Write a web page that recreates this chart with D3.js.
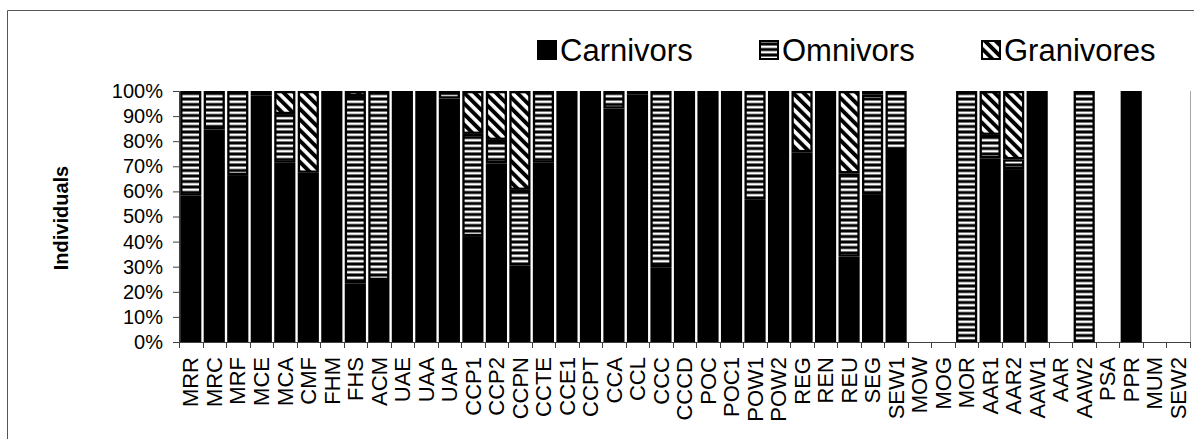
<!DOCTYPE html>
<html>
<head>
<meta charset="utf-8">
<script src="https://cdn.jsdelivr.net/npm/d3@7"></script>
<style>
  html, body { margin: 0; padding: 0; background: #fff; }
  svg { display: block; font-family: "Liberation Sans", Arial, sans-serif; }
</style>
</head>
<body>
<div id="chart"></div>
<script>
// Sites along the x axis
const sites = ["MRR", "MRC", "MRF", "MCE", "MCA", "CMF", "FHM", "FHS", "ACM", "UAE", "UAA", "UAP",
  "CCP1", "CCP2", "CCPN", "CCTE", "CCE1", "CCPT", "CCA", "CCL", "CCC", "CCCD", "POC", "POC1",
  "POW1", "POW2", "REG", "REN", "REU", "SEG", "SEW1", "MOW", "MOG", "MOR", "AAR1", "AAR2",
  "AAW1", "AAR", "AAW2", "PSA", "PPR", "MUM", "SEW2"];

// Share of individuals (%) per feeding group
const carnivors = [58.3, 84.7, 66.5, 98.3, 71.4, 67.4, 100, 23.4, 24.7, 100, 100, 97,
  42.2, 71.2, 30.4, 71.4, 100, 100, 93, 98.5, 29.8, 100, 98, 100,
  56.9, 100, 75.6, 100, 34.0, 58.6, 76.5, 0, 0, 0, 73.2, 68.9,
  100, 0, 0, 0, 100, 0, 0];
const omnivors = [41.7, 15.3, 33.5, 0, 19.4, 0, 0, 74.6, 75.3, 0, 0, 3,
  40.7, 9.3, 30.2, 28.6, 0, 0, 7, 1.5, 70.2, 0, 2, 0,
  43.1, 0, 0, 0, 33.2, 39.9, 23.5, 0, 0, 100, 9.3, 3.9,
  0, 0, 100, 0, 0, 0, 0];
const granivores = [0, 0, 0, 1.7, 9.2, 32.6, 0, 2.0, 0, 0, 0, 0,
  17.1, 19.5, 39.4, 0, 0, 0, 0, 0, 0, 0, 0, 0,
  0, 0, 24.4, 0, 32.8, 1.5, 0, 0, 0, 0, 17.5, 27.2,
  0, 0, 0, 0, 0, 0, 0];

const groups = ["Carnivors", "Omnivors", "Granivores"];
const yTicks = [0, 10, 20, 30, 40, 50, 60, 70, 80, 90, 100];

const W = 1194, H = 439;
const plot = { left: 179, right: 1190, top: 91, bottom: 342 };

const rows = sites.map((s, i) => ({
  site: s,
  Carnivors: carnivors[i],
  Omnivors: omnivors[i],
  Granivores: granivores[i]
}));

const svg = d3.select("#chart").append("svg")
  .attr("width", W)
  .attr("height", H);

// Patterns
const defs = svg.append("defs");
const omniPat = defs.append("pattern")
  .attr("id", "pat-omni")
  .attr("patternUnits", "userSpaceOnUse")
  .attr("width", 10).attr("height", 5.5);
omniPat.append("rect").attr("width", 10).attr("height", 5.5).attr("fill", "#000");
omniPat.append("rect").attr("y", 1.5).attr("width", 10).attr("height", 2.5).attr("fill", "#fff");

const granPat = defs.append("pattern")
  .attr("id", "pat-gran")
  .attr("patternUnits", "userSpaceOnUse")
  .attr("width", 7.5).attr("height", 7.5)
  .attr("patternTransform", "rotate(-45)");
granPat.append("rect").attr("width", 7.5).attr("height", 7.5).attr("fill", "#000");
granPat.append("rect").attr("x", 2).attr("width", 3.6).attr("height", 7.5).attr("fill", "#fff");

const fills = { Carnivors: "#000", Omnivors: "url(#pat-omni)", Granivores: "url(#pat-gran)" };

// Outer frame
svg.append("path")
  .attr("d", `M7.5,${H}V10.5H${W}`)
  .attr("fill", "none")
  .attr("stroke", "#555")
  .attr("stroke-width", 1);

// Scales
const x = d3.scaleBand()
  .domain(sites)
  .range([plot.left, plot.right])
  .paddingInner(0.1)
  .paddingOuter(0.05);

const y = d3.scaleLinear()
  .domain([0, 100])
  .range([plot.bottom, plot.top]);

// Plot area right edge
svg.append("line")
  .attr("x1", plot.right + 0.5).attr("x2", plot.right + 0.5)
  .attr("y1", plot.top).attr("y2", plot.bottom)
  .attr("stroke", "#a6a6a6");

// Bars
const series = d3.stack().keys(groups)(rows);
const sw = 2.3;

svg.append("g")
  .selectAll("g")
  .data(series)
  .join("g")
    .attr("fill", d => fills[d.key])
  .selectAll("rect")
  .data(d => d.filter(p => p[1] - p[0] > 0))
  .join("rect")
    .attr("x", d => x(d.data.site) + sw / 2)
    .attr("width", x.bandwidth() - sw)
    .attr("y", d => y(d[1]) + sw / 2)
    .attr("height", d => Math.max(0, y(d[0]) - y(d[1]) - sw))
    .attr("stroke", "#000")
    .attr("stroke-width", sw);

// Y axis
const yAxis = svg.append("g")
  .attr("transform", `translate(${plot.left},0)`)
  .call(d3.axisLeft(y).tickValues(yTicks).tickFormat(d => d + "%").tickSize(6).tickPadding(10));
yAxis.select(".domain").attr("stroke", "#404040");
yAxis.selectAll(".tick line").attr("stroke", "#404040");
yAxis.selectAll(".tick text")
  .attr("font-size", 20)
  .attr("font-family", "Liberation Sans, Arial, sans-serif")
  .attr("fill", "#000");

// X axis: line, boundary ticks, rotated labels
const xAxis = svg.append("g");
xAxis.append("line")
  .attr("x1", plot.left).attr("x2", plot.right)
  .attr("y1", plot.bottom + 0.5).attr("y2", plot.bottom + 0.5)
  .attr("stroke", "#404040");
xAxis.selectAll("line.tk")
  .data(d3.range(sites.length + 1))
  .join("line")
    .attr("class", "tk")
    .attr("x1", k => Math.round(plot.left + k * x.step()) + 0.5)
    .attr("x2", k => Math.round(plot.left + k * x.step()) + 0.5)
    .attr("y1", plot.bottom)
    .attr("y2", plot.bottom + 6)
    .attr("stroke", "#404040");
xAxis.selectAll("text")
  .data(sites)
  .join("text")
    .attr("transform", d => `translate(${x(d) + x.bandwidth() / 2},${plot.bottom + 15}) rotate(-90)`)
    .attr("text-anchor", "end")
    .attr("dy", "0.35em")
    .attr("font-size", 22)
    .attr("fill", "#000")
    .text(d => d);

// Y axis title
svg.append("text")
  .attr("transform", `translate(61,218) rotate(-90)`)
  .attr("text-anchor", "middle")
  .attr("dy", "0.35em")
  .attr("font-size", 20)
  .attr("font-weight", "bold")
  .text("Individuals");

// Legend
const legend = svg.append("g");
groups.forEach((g, i) => {
  const lx = 537 + i * 222;
  legend.append("rect")
    .attr("x", lx + 1).attr("y", 41)
    .attr("width", 18).attr("height", 18)
    .attr("fill", fills[g])
    .attr("stroke", "#000")
    .attr("stroke-width", 2);
  legend.append("text")
    .attr("x", lx + 23)
    .attr("y", 61)
    .attr("font-size", 31)
    .attr("fill", "#000")
    .text(g);
});
</script>
</body>
</html>
